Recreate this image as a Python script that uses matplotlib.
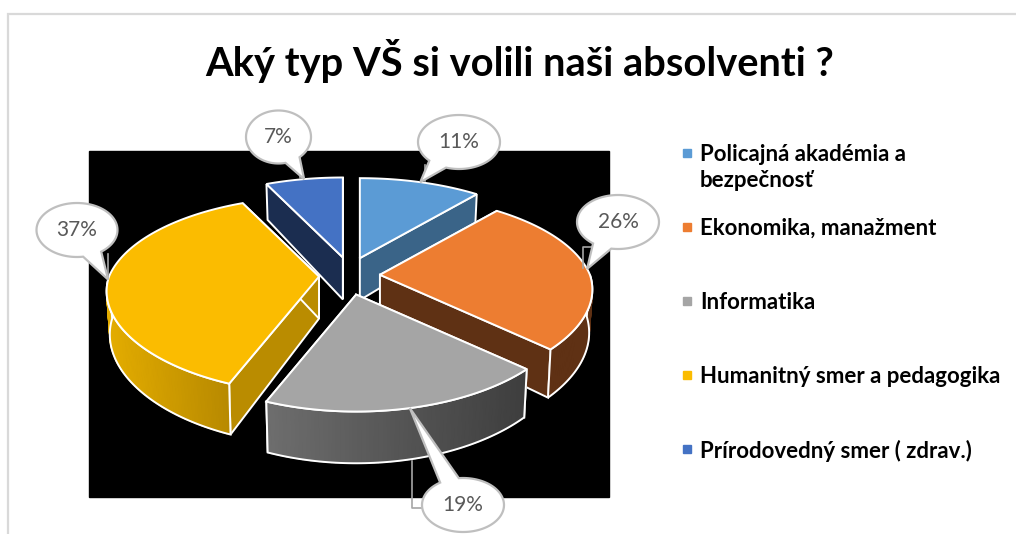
import numpy as np
import matplotlib
matplotlib.use("Agg")
import matplotlib.pyplot as plt
from matplotlib.patches import Polygon, Rectangle

plt.rcParams['font.family'] = ['Lato', 'Open Sans', 'DejaVu Sans']

title = "Aký typ VŠ si volili naši absolventi ?"
categories = ["Policajná akadémia a\nbezpečnosť", "Ekonomika, manažment", "Informatika",
              "Humanitný smer a pedagogika", "Prírodovedný smer ( zdrav.)"]
values = [11, 26, 19, 37, 7]
labels = ["11%", "26%", "19%", "37%", "7%"]

top_colors = ["#5B9BD5", "#ED7D31", "#A5A5A5", "#FBBC00", "#4472C4"]
side_colors = ["#3A6488", "#5F3114", "#5A5A5A", "#BA8C00", "#1B2D50"]
wall_left = ["#3A6488", "#5F3114", "#6E6E6E", "#E3AC00", "#1B2D50"]
wall_right = ["#3A6488", "#5F3114", "#3E3E3E", "#B88A00", "#1B2D50"]

# pie geometry in pixels, rough perspective like the excel 3d pie
cx, cy = 349.5, 276
rx, ry = 210, 95
persp = 0.188
persp_front = 0.15
ex, ey = 30.5, 19
depth = 42
legend_y = [153, 227, 301, 375, 449]
bubble_xy = [(459, 142), (618, 222), (463, 505), (77, 230), (278.5, 137)]
bubble_r = [(41, 27), (41, 27), (41, 27), (40.5, 27), (32.5, 26.5)]
leaders = [[(425, 165), (425, 181)], [(593, 247), (583, 247), (583, 268)],
           [(412, 461), (412, 508), (423, 508)], [(108, 254), (108, 278)], [(300, 157), (300, 178)]]

fig = plt.figure(figsize=(10.16, 5.34), dpi=100)
ax = fig.add_axes([0, 0, 1, 1])
ax.set_xlim(0, 1016)
ax.set_ylim(534, 0)
ax.axis('off')

ax.plot([8, 8, 1016], [534, 14, 14], color="#D9D9D9", lw=1.6, zorder=1, solid_joinstyle='miter')
ax.add_patch(Rectangle((89, 151), 520, 346, color="black", zorder=1))


def rim(apex, deg, down=0.0):
    a = np.radians(deg)
    u, v = np.sin(a), np.cos(a)
    s = 1 / (1 + persp * v)
    sx = s if v > 0 else 1 / (1 + persp_front * v)
    shrink = 1 - 0.015 * (down > 0)
    return (apex[0] + rx * u * sx * shrink, apex[1] - ry * v * s + down * s)


def arc(apex, a0, a1, down=0.0):
    return [rim(apex, d, down) for d in np.linspace(a0, a1, int(abs(a1 - a0)) + 2)]


def lerp(c0, c1, t):
    c0 = np.array(matplotlib.colors.to_rgb(c0))
    c1 = np.array(matplotlib.colors.to_rgb(c1))
    return tuple(c0 + (c1 - c0) * t)


total = sum(values)
edges = np.cumsum([0] + values) / total * 360
mids = (edges[:-1] + edges[1:]) / 2
apexes = [(cx + ex * np.sin(np.radians(m)), cy - ey * np.cos(np.radians(m))) for m in mids]

z = 2
for i in [4, 0, 3, 1, 2]:
    a0, a1, apex = edges[i], edges[i + 1], apexes[i]
    low = (apex[0], apex[1] + depth)
    for deg in (a0, a1):
        face = [apex, rim(apex, deg), rim(apex, deg, depth), low]
        ax.add_patch(Polygon(face, closed=True, fc=side_colors[i], ec="white", lw=1.4, zorder=z))
    # outer wall only where it faces us, with the shading going left to right
    w0, w1 = max(a0, 90), min(a1, 270)
    if w1 > w0:
        xs_left = rim(apex, w1)[0]
        xs_right = rim(apex, w0)[0]
        steps = np.linspace(w0, w1, int(w1 - w0) + 2)
        for d0, d1 in zip(steps[:-1], steps[1:]):
            t = (rim(apex, d0)[0] - xs_left) / max(xs_right - xs_left, 1)
            q = [rim(apex, d0), rim(apex, d1), rim(apex, d1, depth), rim(apex, d0, depth)]
            col = lerp(wall_left[i], wall_right[i], t)
            ax.add_patch(Polygon(q, closed=True, fc=col, ec=col, lw=1.0, zorder=z))
        outline = arc(apex, w0, w1) + arc(apex, w1, w0, depth)
        ax.add_patch(Polygon(outline, closed=True, fill=False, ec="white", lw=1.4, zorder=z))
    topface = [apex] + arc(apex, a0, a1)
    ax.add_patch(Polygon(topface, closed=True, fc=top_colors[i], ec="white", lw=1.4, zorder=z))
    z += 1

# data label bubbles
for i, lab in enumerate(labels):
    bx, by = bubble_xy[i]
    brx, bry = bubble_r[i]
    tip = rim(apexes[i], mids[i])
    ax.plot(*zip(*leaders[i]), color="#A6A6A6", lw=1.2, zorder=9)
    t0 = np.arctan2((tip[1] - by) / bry, (tip[0] - bx) / brx)
    th = t0 + np.radians(np.linspace(14, 346, 120))
    pts = [tip] + [(bx + brx * np.cos(t), by + bry * np.sin(t)) for t in th]
    ax.add_patch(Polygon(pts, closed=True, fc="white", ec="#BFBFBF", lw=1.6, zorder=10))
    ax.text(bx, by, lab, color="#595959", fontsize=15, ha='center', va='center', zorder=11)

ax.text(519.5, 61, title, fontsize=28.7, fontweight='bold', color="black", ha='center', va='center')

for i, cat in enumerate(categories):
    ax.add_patch(Rectangle((683, legend_y[i] - 4), 8, 8, color=top_colors[i], zorder=3))
    ax.text(700, legend_y[i] - 9, cat, fontsize=16, fontweight='bold', color="black",
            ha='left', va='top', linespacing=1.3)

fig.savefig("out.png", dpi=100)
